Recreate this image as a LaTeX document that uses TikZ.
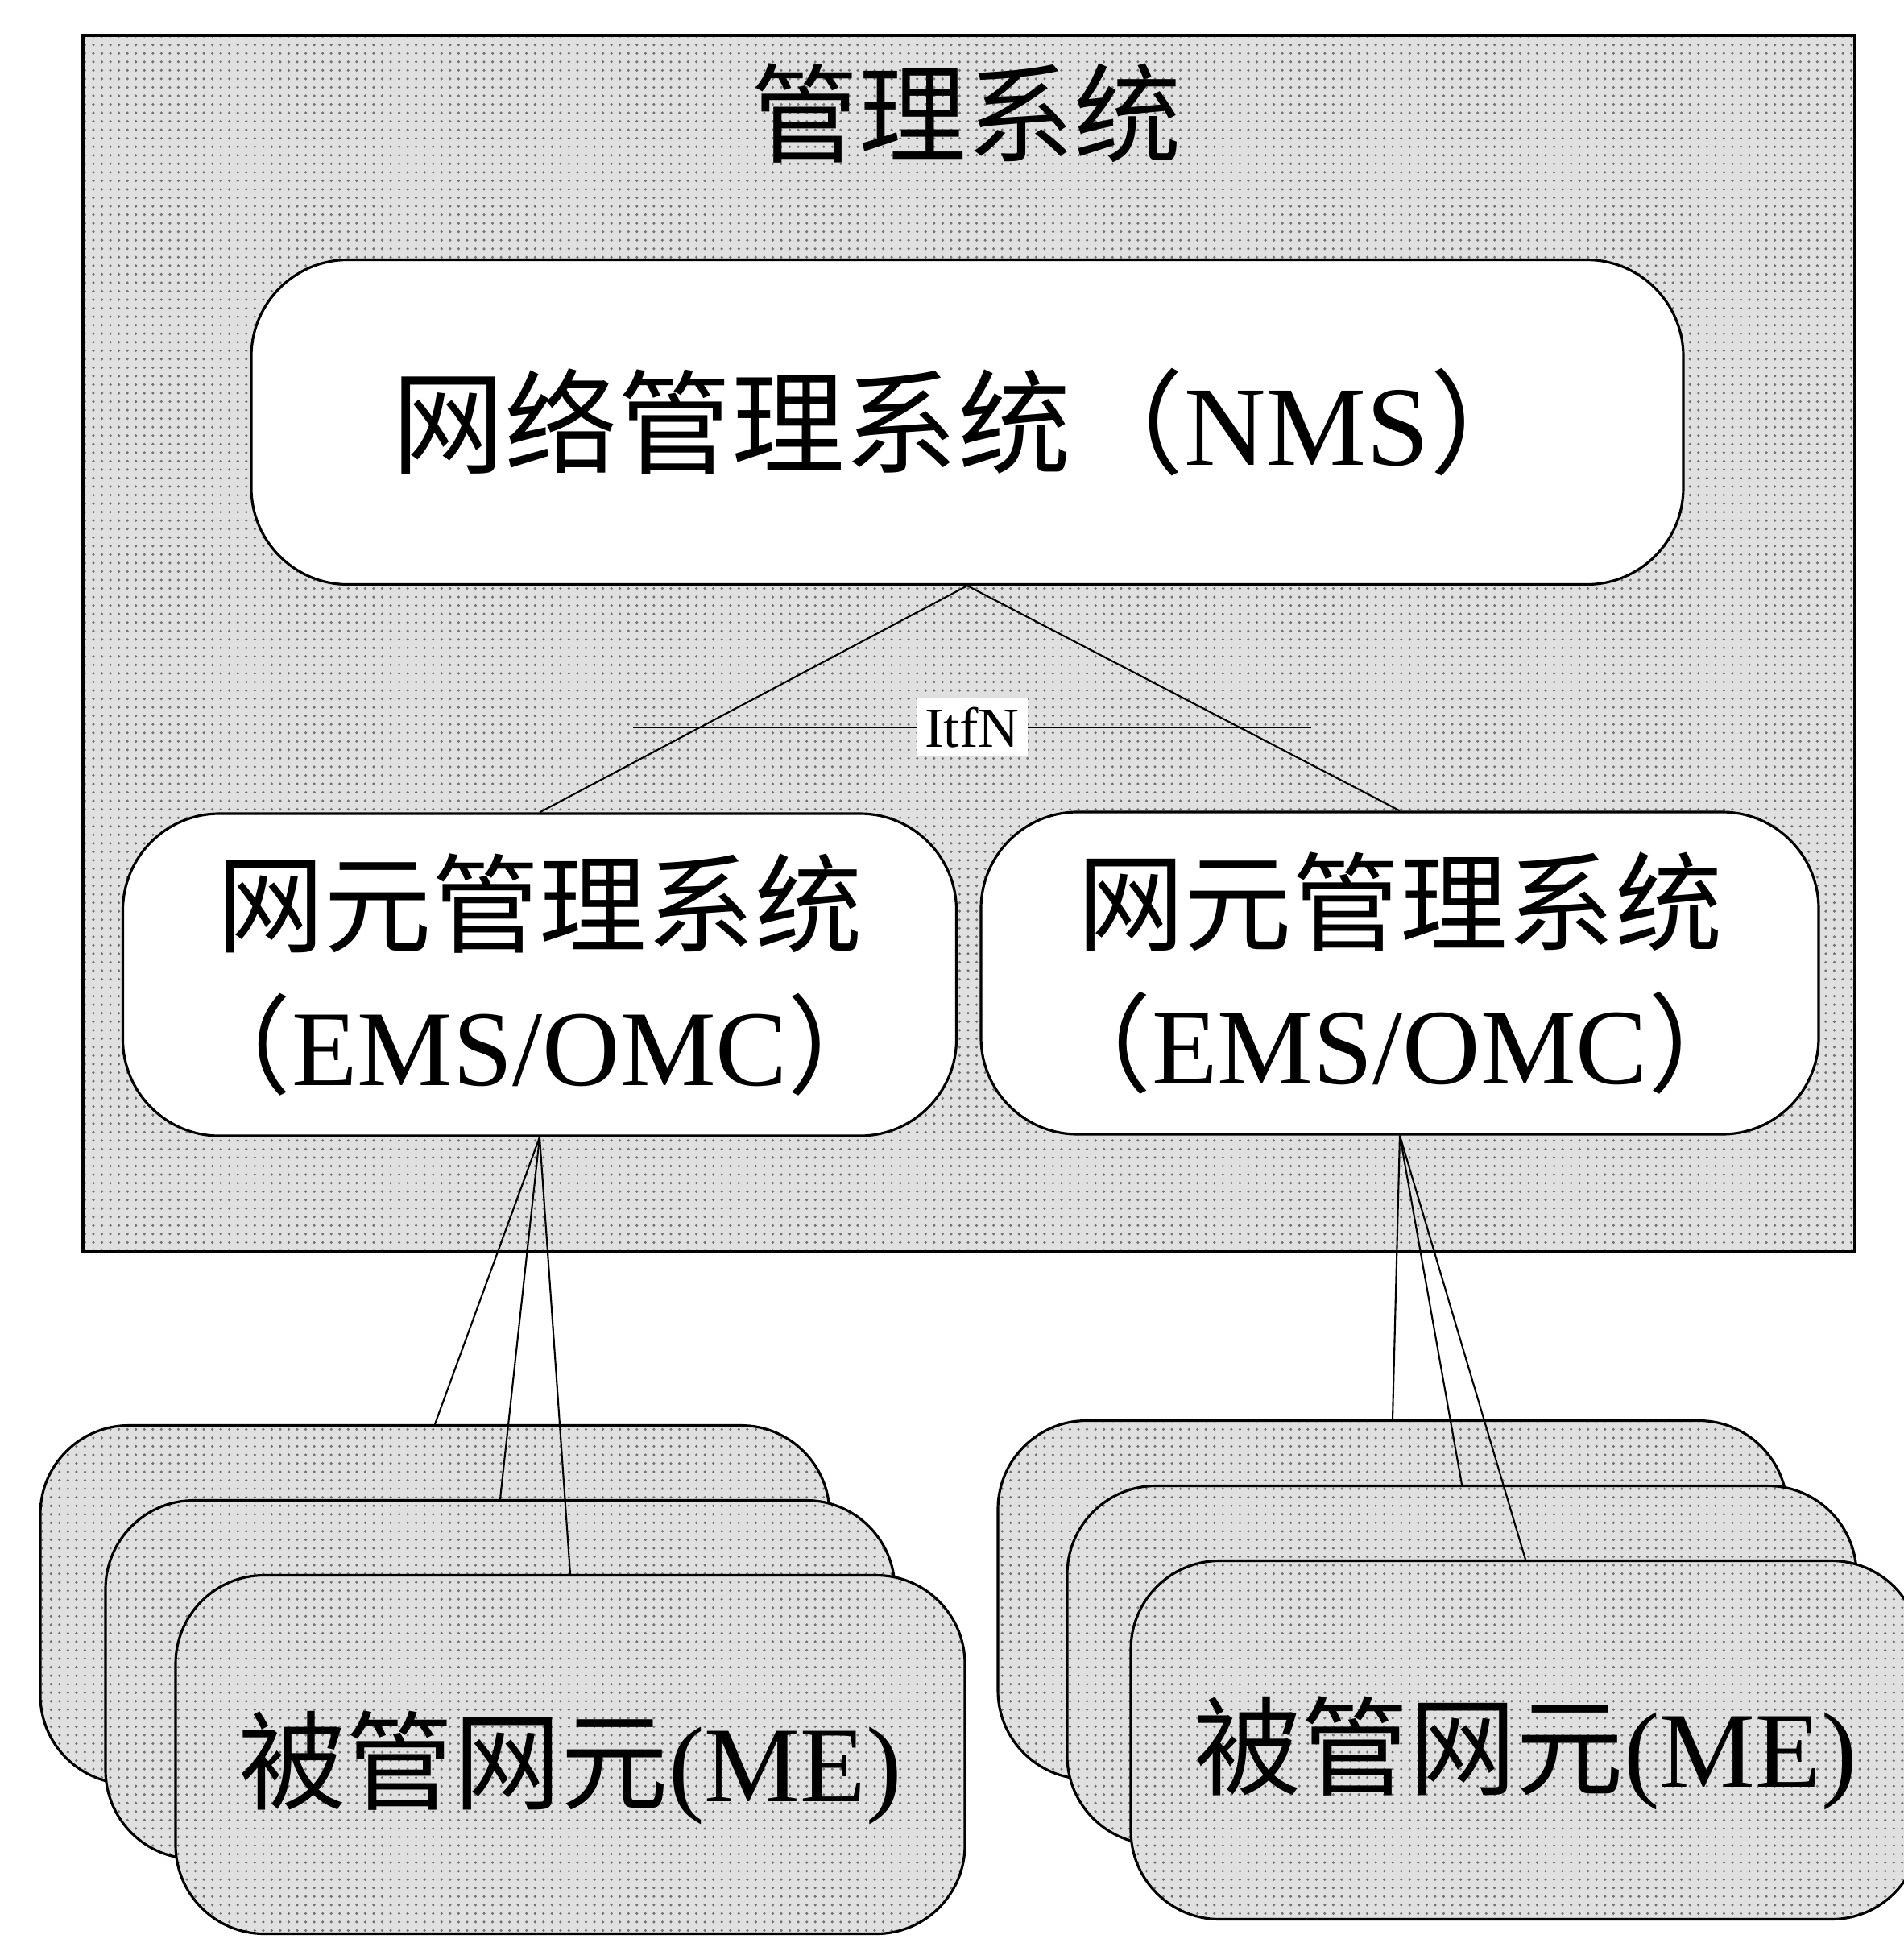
\documentclass[tikz,border=0pt]{standalone}
\usepackage{fontspec}
\setmainfont{Liberation Serif}
\newfontfamily\cjk{Noto Sans CJK SC}
\usetikzlibrary{patterns}

\begin{document}
\begin{tikzpicture}[y=-1cm,
    dotfill/.style={preaction={fill=black!12}, pattern=dots, pattern color=black!55},
    sysbox/.style={draw, fill=white, line width=0.9pt, rounded corners=1.2cm, align=center, font=\fontsize{38}{50}\selectfont},
    mebox/.style={draw, dotfill, line width=0.9pt, rounded corners=1.1cm, minimum width=9.8cm, minimum height=4.45cm, text height=1.45cm, font=\fontsize{38}{50}\selectfont},
    link/.style={line width=0.6pt}]

\useasboundingbox (0,0) rectangle (23.63,24.07);

%\draw [color=black,thick](0,0) rectangle (23.63,24.07);
\draw
    node at(12.03,7.99)[dotfill,draw,line width=0.9pt,minimum width=22cm,minimum height=15.1cm,name=mgmt]{}
    node at(12.0,1.41)[font=\fontsize{38}{50}\selectfont,name=title]{\cjk 管理系统}

    node at(12.01,5.24)[sysbox,minimum width=17.78cm,minimum height=4.03cm,font=\fontsize{40}{50}\selectfont,name=nms]{{\cjk 网络管理系统（}NMS{\cjk ）}}

    node at(6.70,12.10)[sysbox,minimum width=10.35cm,minimum height=4cm,name=emsL]{{\cjk 网元管理系统}\\{\cjk （}EMS/OMC{\cjk ）}}
    node at(17.38,12.08)[sysbox,minimum width=10.4cm,minimum height=4cm,name=emsR]{{\cjk 网元管理系统}\\{\cjk （}EMS/OMC{\cjk ）}}

    node at(5.40,19.92)[mebox,name=meL1]{}
    node at(6.21,20.85)[mebox,name=meL2]{}
    node at(7.08,21.78)[mebox,name=meL3]{{\cjk 被管网元}(ME)}

    node at(17.29,19.86)[mebox,name=meR1]{}
    node at(18.15,20.67)[mebox,name=meR2]{}
    node at(18.94,21.60)[mebox,name=meR3]{{\cjk 被管网元}(ME)}
;
    \coordinate (itfA) at (7.86,9.03);
    \coordinate (itfB) at (16.28,9.03);

    \draw[link](nms.south) -- (emsL.north);
    \draw[link](nms.south) -- (emsR.north);
    \draw[link](itfA) -- node[fill=white,inner sep=3pt,font=\fontsize{20}{24}\selectfont]{ItfN}(itfB);

    \draw[link](emsL.south) -- (meL1.north);
    \draw[link](emsL.south) -- (meL2.north);
    \draw[link](emsL.south) -- (meL3.north);

    \draw[link](emsR.south) -- (meR1.north);
    \draw[link](emsR.south) -- (meR2.north);
    \draw[link](emsR.south) -- (meR3.north);

\end{tikzpicture}
\end{document}
